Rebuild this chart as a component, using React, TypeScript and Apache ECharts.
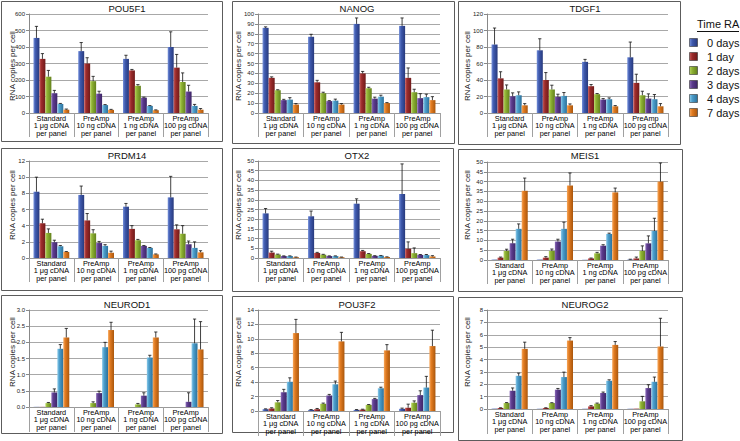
import React, { useEffect, useRef } from "react";
import * as echarts from "echarts";

// ---------------- DATA ----------------
const categories = [
  "Standard\n1 μg cDNA\nper panel",
  "PreAmp\n10 ng cDNA\nper panel",
  "PreAmp\n1 ng cDNA\nper panel",
  "PreAmp\n100 pg cDNA\nper panel",
];
const seriesNames = ["0 days", "1 day", "2 days", "3 days", "4 days", "7 days"];
const panelTitles = ["POU5F1", "NANOG", "TDGF1", "PRDM14", "OTX2", "MEIS1", "NEUROD1", "POU3F2", "NEUROG2"];
const yMaxes = [600, 100, 120, 12, 50, 50, 3, 14, 8];
const yIntervals = [100, 10, 20, 2, 5, 5, 0.5, 2, 1];
const yDecimals = [0, 0, 0, 0, 0, 0, 1, 0, 0];

// rows = series (0,1,2,3,4,7 days), columns = categories
const pou5f1Mean = [[455, 375, 328, 400], [328, 300, 258, 275], [220, 193, 165, 188], [120, 117, 93, 130], [55, 48, 43, 43], [20, 19, 17, 20]];
const pou5f1Upper = [[525, 427, 350, 492], [360, 335, 264, 355], [258, 222, 172, 243], [137, 132, 96, 168], [58, 51, 45, 52], [24, 22, 19, 27]];

const nanogMean = [[86, 77, 90, 88], [35.5, 31, 40, 35.5], [23, 20, 25, 21], [13, 12, 14.5, 15], [13.5, 12.5, 16.5, 16], [8.5, 8.5, 10, 13]];
const nanogUpper = [[87, 79.5, 96, 96], [36.5, 33, 42, 45.5], [23.5, 21, 26, 24], [13.8, 12.5, 16, 19.5], [15.5, 14, 18, 19], [9.5, 9.5, 10.5, 16.5]];

const tdgf1Mean = [[83, 76, 62, 67.5], [42, 40, 32.5, 36.5], [28.5, 28.5, 22.8, 21.5], [20.3, 19.5, 16.3, 17.5], [21.5, 20.7, 16.7, 16.7], [9.3, 9.3, 8.1, 8.1]];
const tdgf1Upper = [[103, 90, 65, 86], [50, 49, 34.5, 47], [34, 33.7, 23.6, 26.4], [24.4, 22.8, 17.5, 23.2], [25.6, 24.8, 18.3, 22.4], [11.4, 11, 9, 11.4]];

const prdm14Mean = [[8.2, 7.8, 6.35, 7.5], [4.3, 4.65, 3.6, 3.55], [3.1, 3.05, 2.2, 3.0], [1.95, 1.85, 1.5, 1.7], [1.45, 1.5, 1.25, 1.25], [0.75, 0.65, 0.45, 0.7]];
const prdm14Upper = [[10, 8.9, 6.75, 10.1], [4.8, 5.5, 4.0, 4.1], [3.6, 3.5, 2.3, 4.0], [2.2, 2.05, 1.55, 2.1], [1.55, 1.65, 1.3, 2.0], [0.8, 0.85, 0.5, 0.9]];

const otx2Mean = [[23, 21.5, 28, 33], [2.8, 2.6, 3.5, 4.8], [1.8, 1.7, 2.1, 2.5], [1.0, 1.0, 1.1, 1.6], [1.0, 1.0, 1.2, 1.5], [0.4, 0.4, 0.5, 0.8]];
const otx2Upper = [[25.5, 24.2, 30.5, 48.5], [3.5, 2.9, 3.9, 8.3], [2.0, 1.9, 2.3, 5.2], [1.1, 1.1, 1.2, 1.8], [1.1, 1.1, 1.3, 1.8], [0.5, 0.5, 0.6, 1.2]];

const meis1Mean = [[0.2, 0.2, 0.1, 0.2], [1.2, 1.2, 0.8, 0.8], [4.6, 4.6, 3.4, 4.6], [8.5, 9.4, 7.3, 8.5], [15.9, 15.9, 13.3, 14.8], [35.3, 38, 34.5, 40]];
const meis1Upper = [[0.2, 0.2, 0.1, 0.4], [1.5, 1.7, 1.0, 1.5], [5.5, 5.6, 3.9, 7.2], [10.6, 10.6, 7.8, 12.3], [18.4, 19.3, 13.7, 21.3], [41.8, 44.4, 36.7, 49.5]];

const neurod1Mean = [[0.005, 0, 0, 0], [0.005, 0, 0, 0], [0.12, 0.12, 0.08, 0], [0.45, 0.43, 0.35, 0.16], [1.8, 1.85, 1.53, 1.97], [2.15, 2.38, 2.15, 1.78]];
const neurod1Upper = [[0.005, 0, 0, 0], [0.005, 0, 0, 0], [0.14, 0.16, 0.11, 0], [0.56, 0.49, 0.44, 0.44], [1.93, 2.0, 1.6, 2.72], [2.43, 2.62, 2.32, 2.64]];

const pou3f2Mean = [[0.25, 0.15, 0.15, 0.3], [0.35, 0.25, 0.2, 0.45], [1.2, 1.0, 0.85, 1.15], [2.6, 2.15, 1.65, 2.2], [4.05, 3.7, 3.15, 3.25], [10.8, 9.65, 8.4, 9.0]];
const pou3f2Upper = [[0.3, 0.2, 0.2, 0.4], [0.45, 0.35, 0.25, 0.95], [1.45, 1.1, 0.9, 1.4], [3.0, 2.3, 1.75, 2.8], [4.6, 4.15, 3.3, 4.8], [12.7, 10.9, 9.2, 11.2]];

const neurog2Mean = [[0.03, 0.02, 0.02, 0.02], [0.08, 0.08, 0.21, 0.03], [0.48, 0.48, 0.43, 0.62], [1.48, 1.56, 1.29, 1.69], [2.68, 2.58, 2.28, 2.2], [4.86, 5.53, 5.18, 5.05]];
const neurog2Upper = [[0.03, 0.02, 0.02, 0.02], [0.1, 0.1, 0.27, 0.03], [0.52, 0.51, 0.48, 1.02], [1.7, 1.66, 1.37, 1.96], [2.9, 2.98, 2.36, 2.58], [5.4, 5.77, 5.45, 7.33]];

const allMeans = [pou5f1Mean, nanogMean, tdgf1Mean, prdm14Mean, otx2Mean, meis1Mean, neurod1Mean, pou3f2Mean, neurog2Mean];
const allUppers = [pou5f1Upper, nanogUpper, tdgf1Upper, prdm14Upper, otx2Upper, meis1Upper, neurod1Upper, pou3f2Upper, neurog2Upper];

// ---------------- LAYOUT / STYLE ----------------
const FONT = "'Liberation Sans', Arial, sans-serif";
const gridBoxes = [
  { l: 29, t: 14, w: 179, h: 99 },
  { l: 258, t: 14, w: 182, h: 99 },
  { l: 487, t: 14, w: 181, h: 99 },
  { l: 29, t: 161, w: 179, h: 97 },
  { l: 258, t: 161, w: 182, h: 97 },
  { l: 487, t: 162, w: 181, h: 98 },
  { l: 29, t: 310, w: 179, h: 97 },
  { l: 258, t: 310, w: 182, h: 101 },
  { l: 487, t: 310, w: 181, h: 99 },
];
const frames = [
  [1, 1, 221, 140], [232, 1, 222, 142], [458, 1, 222, 143],
  [1, 148, 221, 142], [232, 148, 221, 143], [458, 149, 224, 142],
  [1, 295, 221, 138], [232, 296, 221, 136], [458, 297, 224, 143],
];
const titleX = [127, 357, 585];
const titleY = [8, 155, 304];
const axisTitleX = [12, 238, 467];
const axisTitleY = [66, 205, 352];

const palette = [
  ["#7590da", "#3f5aae", "#27397c"],
  ["#c45a5a", "#9c2b2b", "#6e1a1a"],
  ["#b6d460", "#8cb032", "#62801c"],
  ["#8a6ab8", "#5b3b8c", "#3d2566"],
  ["#8ccbea", "#4b9dcb", "#2c7099"],
  ["#f7a85c", "#e07a20", "#a9560c"],
];
const grad = (c: string[]) => ({
  type: "linear", x: 0, y: 0, x2: 1, y2: 0,
  colorStops: [
    { offset: 0, color: c[0] },
    { offset: 0.35, color: c[1] },
    { offset: 1, color: c[2] },
  ],
});

function buildOption() {
  const grid: any[] = [];
  const xAxis: any[] = [];
  const yAxis: any[] = [];
  const series: any[] = [];
  const graphic: any[] = [];

  frames.forEach((f) => {
    graphic.push({
      type: "rect", shape: { x: f[0] + 0.5, y: f[1] + 0.5, width: f[2], height: f[3] },
      style: { fill: "#fff", stroke: "#5c5c5c", lineWidth: 1 }, z: -10,
    });
  });

  gridBoxes.forEach((g, i) => {
    const col = i % 3;
    const row = Math.floor(i / 3);
    grid.push({ left: g.l, top: g.t, width: g.w, height: g.h, containLabel: false });
    xAxis.push({
      type: "category", gridIndex: i, data: categories,
      axisLine: { show: true, lineStyle: { color: "#999", width: 1 } },
      axisTick: { show: true, interval: 0, length: row === 2 ? 25 : 24, lineStyle: { color: "#a0a0a0" } },
      axisLabel: { interval: 0, fontSize: 7.3, lineHeight: 7.6, margin: 1.5, color: "#000", fontFamily: FONT },
      splitLine: { show: false },
    });
    yAxis.push({
      type: "value", gridIndex: i, min: 0, max: yMaxes[i], interval: yIntervals[i],
      axisLine: { show: true, lineStyle: { color: "#888" } },
      axisTick: { show: true, length: 3, lineStyle: { color: "#888" } },
      axisLabel: {
        fontSize: 6, margin: 4, color: "#222", fontFamily: FONT,
        formatter: (v: number) => v.toFixed(yDecimals[i]),
      },
      splitLine: { show: true, lineStyle: { color: "#a8a8a8", width: 1 } },
    });

    const means = allMeans[i];
    const ups = allUppers[i];
    seriesNames.forEach((name, s) => {
      series.push({
        type: "bar", name, xAxisIndex: i, yAxisIndex: i,
        data: means[s],
        barGap: "0%", barCategoryGap: "20%",
        itemStyle: { color: grad(palette[s]) },
        z: 2,
      });
    });
    const errData: number[][] = [];
    seriesNames.forEach((_, s) => {
      for (let c = 0; c < categories.length; c++) {
        errData.push([c, s, means[s][c], ups[s][c]]);
      }
    });
    series.push({
      type: "custom", xAxisIndex: i, yAxisIndex: i, z: 5,
      data: errData,
      encode: { x: 0, y: [2, 3] },
      renderItem: (params: any, api: any) => {
        const c = api.value(0);
        const s = api.value(1);
        const m = api.value(2);
        const u = api.value(3);
        if (!(u > m)) return { type: "group", children: [] };
        const base = api.coord([c, m]);
        const top = api.coord([c, u]);
        const catW = api.size([1, 0])[0];
        const bw = (catW * 0.8) / 6;
        const x = base[0] + (s - 2.5) * bw;
        const st = { stroke: "#111", lineWidth: 0.8 };
        return {
          type: "group",
          children: [
            { type: "line", shape: { x1: x, y1: base[1], x2: x, y2: top[1] }, style: st },
            { type: "line", shape: { x1: x - 1.6, y1: top[1], x2: x + 1.6, y2: top[1] }, style: st },
          ],
        };
      },
    });

    graphic.push({
      type: "text", x: titleX[col], y: titleY[row],
      style: { text: panelTitles[i], fontSize: 9.5, fontFamily: FONT, fill: "#111", textAlign: "center", textVerticalAlign: "middle" },
    });
    graphic.push({
      type: "text", x: axisTitleX[col], y: axisTitleY[row], rotation: Math.PI / 2,
      style: { text: "RNA copies per cell", fontSize: 8, fontFamily: FONT, fill: "#222", textAlign: "center", textVerticalAlign: "middle" },
    });
  });

  // legend
  graphic.push({
    type: "text", x: 697, y: 24,
    style: { text: "Time RA", fontSize: 11, fontFamily: FONT, fill: "#111", textAlign: "left", textVerticalAlign: "middle" },
  });
  graphic.push({ type: "line", shape: { x1: 697, y1: 31.5, x2: 739, y2: 31.5 }, style: { stroke: "#111", lineWidth: 1 } });
  seriesNames.forEach((name, s) => {
    const cy = 42.5 + s * 14;
    graphic.push({
      type: "rect", shape: { x: 689.5, y: cy - 4, width: 8, height: 8 },
      style: { fill: grad(palette[s]), stroke: "#333", lineWidth: 0.6 },
    });
    graphic.push({
      type: "text", x: 707, y: cy,
      style: { text: name, fontSize: 11, fontFamily: FONT, fill: "#111", textAlign: "left", textVerticalAlign: "middle" },
    });
  });

  return {
    animation: false,
    backgroundColor: "#fff",
    textStyle: { fontFamily: FONT },
    grid, xAxis, yAxis, series, graphic,
  };
}

export default function App() {
  const ref = useRef<HTMLDivElement>(null);
  useEffect(() => {
    if (!ref.current) return;
    const chart = echarts.init(ref.current, undefined, { renderer: "svg" });
    chart.setOption(buildOption() as any);
    return () => chart.dispose();
  }, []);
  return (
    <div
      ref={ref}
      style={{ position: "absolute", left: 0, top: 0, width: 740, height: 441, background: "#fff" }}
    />
  );
}
